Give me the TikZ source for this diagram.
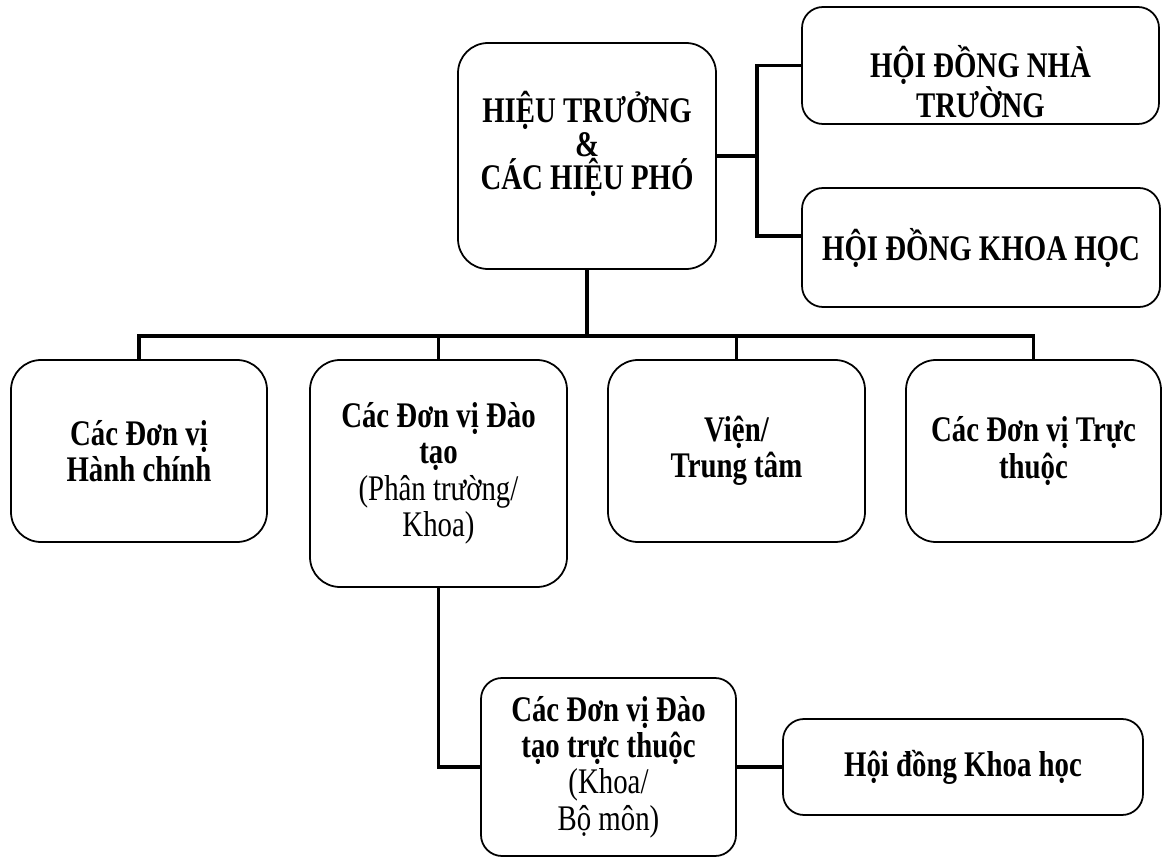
\documentclass[tikz,border=0pt]{standalone}
\usepackage{fontspec}
\setmainfont{Liberation Serif}[FakeStretch=0.8]
\usetikzlibrary{calc}
\newcommand{\tightlines}{\lineskiplimit=-20pt\relax}

\begin{document}
\begin{tikzpicture}[
    box/.style={draw,line width=1pt,rounded corners=0.6cm,align=center,inner sep=0pt,
      font=\fontsize{20.5}{20.7}\selectfont\bfseries},
    sbox/.style={box,rounded corners=0.42cm},
    txt/.style={align=center,inner sep=0pt},
    lnk/.style={line width=2.2pt}]
    \useasboundingbox (0,0) rectangle (23.26,17.16);
    % top
    \node[box,minimum width=5.16cm,minimum height=4.52cm] (ht) at (11.74,14.04) {};
    \node[txt,font=\fontsize{20.5}{19}\selectfont\bfseries\tightlines] (htt) at (11.74,14.28) {HIỆU TRƯỞNG\\\&\\CÁC HIỆU PHÓ};
    \node[sbox,minimum width=7.14cm,minimum height=2.34cm] (hdnt) at (19.61,15.85) {};
    \node[txt,font=\fontsize{20.5}{19.5}\selectfont\bfseries] (hdntt) at (19.61,15.52) {HỘI ĐỒNG NHÀ\\TRƯỜNG};
    \node[sbox,minimum width=7.16cm,minimum height=2.38cm] (hdkh) at (19.62,12.21) {HỘI ĐỒNG KHOA HỌC};
    % second row
    \node[box,minimum width=5.12cm,minimum height=3.64cm] (hc) at (2.78,8.14) {Các Đơn vị\\Hành chính};
    \node[box,minimum width=5.14cm,minimum height=4.54cm] (dt) at (8.77,7.69) {Các Đơn vị Đào\\tạo\\\mdseries(Phân trường/\\\mdseries Khoa)};
    \node[box,minimum width=5.14cm,minimum height=3.64cm] (vien) at (14.73,8.14) {Viện/\\Trung tâm};
    \node[box,minimum width=5.10cm,minimum height=3.64cm] (tt) at (20.67,8.14) {Các Đơn vị Trực\\thuộc};
    % bottom
    \node[sbox,minimum width=5.10cm,minimum height=3.56cm] (dtc) at (12.17,1.82) {Các Đơn vị Đào\\tạo trực thuộc\\\mdseries(Khoa/\\\mdseries Bộ môn)};
    \node[sbox,minimum width=7.20cm,minimum height=1.92cm] (hdkhc) at (19.26,1.82) {Hội đồng Khoa học};
    % connectors
    \coordinate (bus) at (11.74,10.44);
    \coordinate (split) at (15.14,14.04);
    \draw[lnk] (ht.south) -- (bus);
    \draw[lnk] (hc.north) |- (bus);
    \draw[lnk] (dt.north) |- (bus);
    \draw[lnk] (vien.north) |- (bus);
    \draw[lnk] (tt.north) |- (bus);
    \draw[lnk] (ht.east) -- (split);
    \draw[lnk] (hdnt.west) -| (split);
    \draw[lnk] ([yshift=0.23cm]hdkh.west) -| (split);
    \draw[lnk] (dt.south) |- (dtc.west);
    \draw[lnk] (dtc.east) -- (hdkhc.west);
\end{tikzpicture}
\end{document}
